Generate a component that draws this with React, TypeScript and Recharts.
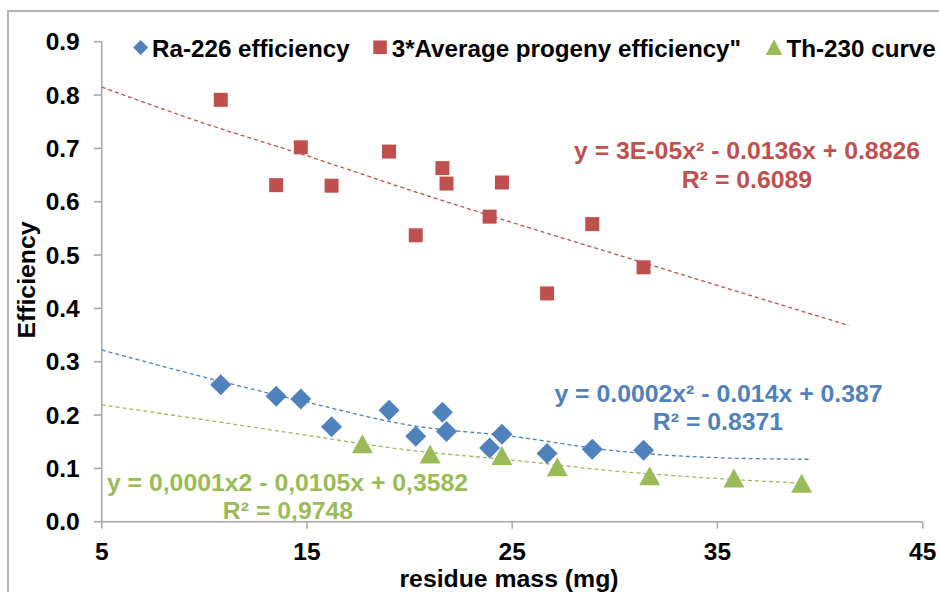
import React from "react";
import { ScatterChart, Scatter, XAxis, YAxis } from "recharts";

// residue mass (mg) of the samples, shared by Ra-226 and progeny series
const residueMass = [10.8, 13.5, 14.7, 16.2, 19.0, 20.3, 21.6, 21.8, 23.9, 24.5, 26.7, 28.9, 31.4];
const ra226Efficiency = [0.257, 0.235, 0.23, 0.178, 0.209, 0.16, 0.205, 0.169, 0.138, 0.164, 0.128, 0.136, 0.134];
const progenyEfficiency = [0.791, 0.631, 0.702, 0.63, 0.694, 0.537, 0.663, 0.634, 0.572, 0.636, 0.428, 0.558, 0.477];

const th230Mass = [17.7, 21.0, 24.5, 27.2, 31.7, 35.8, 39.1];
const th230Efficiency = [0.146, 0.127, 0.124, 0.103, 0.086, 0.082, 0.072];

// trendlines
const progenyTrendX = [5, 10, 15, 20, 25, 30, 35, 41.4];
const progenyTrendY = [0.815, 0.747, 0.686, 0.622, 0.561, 0.502, 0.443, 0.368];
const raTrendX = [5, 10, 15, 20, 25, 30, 35, 39.5];
const raTrendY = [0.322, 0.271, 0.224, 0.181, 0.16, 0.133, 0.12, 0.117];
const thTrendX = [5, 10, 15, 20, 25, 30, 35, 39.2];
const thTrendY = [0.219, 0.191, 0.162, 0.134, 0.1155, 0.095, 0.081, 0.072];

const xTicks = [5, 15, 25, 35, 45];
const yTicks = [0, 0.1, 0.2, 0.3, 0.4, 0.5, 0.6, 0.7, 0.8, 0.9];

const legendLabels = ["Ra-226 efficiency", '3*Average progeny efficiency"', "Th-230 curve"];
const redEquation = ["y = 3E-05x² - 0.0136x + 0.8826", "R² = 0.6089"];
const blueEquation = ["y = 0.0002x² - 0.014x + 0.387", "R² = 0.8371"];
const greenEquation = ["y = 0,0001x2 - 0,0105x + 0,3582", "R² = 0,9748"];

const BLUE = "#4F81BD";
const RED = "#C0504D";
const GREEN = "#9BBB59";
const AXIS = "#a6a6a6";
const FONT = "'Liberation Sans', Arial, sans-serif";

const zip = (xs: number[], ys: number[]) => xs.map((x, i) => ({ x, y: ys[i] }));

const Diamond = ({ cx, cy }: any) => (
  <path d={`M${cx},${cy - 10.5}L${cx + 10.5},${cy}L${cx},${cy + 10.5}L${cx - 10.5},${cy}Z`} fill={BLUE} />
);
const Square = ({ cx, cy }: any) => <rect x={cx - 7} y={cy - 7} width={14} height={14} fill={RED} />;
const Triangle = ({ cx, cy }: any) => (
  <path d={`M${cx},${cy - 9.5}L${cx + 10.5},${cy + 9.5}L${cx - 10.5},${cy + 9.5}Z`} fill={GREEN} />
);
const NoMarker = () => <g />;

const tickStyle = { fill: "#000", fontSize: 24.5, fontWeight: "bold", fontFamily: FONT };
const textStyle: React.CSSProperties = { fontSize: 24.8, fontWeight: "bold", fontFamily: FONT };
const legendStyle: React.CSSProperties = { fontSize: 24.2, fontWeight: "bold", fontFamily: FONT };

export default function App() {
  return (
    <div
      style={{
        position: "absolute",
        left: 0,
        top: 0,
        width: 939,
        height: 592,
        overflow: "hidden",
        background: "#fff",
      }}
    >
      <div
        style={{
          position: "absolute",
          left: 7,
          top: 10,
          width: 1000,
          height: 700,
          border: "2px solid #b4b4b4",
        }}
      />
      <div style={{ position: "absolute", left: 0, top: 0 }}>
        <ScatterChart width={939} height={592} margin={{ top: 41.7, right: 16.3, left: 0, bottom: 0 }}>
          <XAxis
            type="number"
            dataKey="x"
            domain={[5, 45]}
            ticks={xTicks}
            interval={0}
            allowDataOverflow
            height={70.3}
            tickSize={7}
            tickMargin={14}
            axisLine={{ stroke: AXIS, strokeWidth: 1.5 }}
            tickLine={{ stroke: AXIS, strokeWidth: 1.5 }}
            tick={tickStyle}
            label={{
              content: () => (
                <text x={509} y={587} textAnchor="middle" style={textStyle} fill="#000">
                  residue mass (mg)
                </text>
              ),
            }}
          />
          <YAxis
            type="number"
            dataKey="y"
            domain={[0, 0.9]}
            ticks={yTicks}
            interval={0}
            allowDataOverflow
            width={101.7}
            tickSize={8}
            tickMargin={14}
            tickFormatter={(v: number) => v.toFixed(1)}
            axisLine={{ stroke: AXIS, strokeWidth: 1.5 }}
            tickLine={{ stroke: AXIS, strokeWidth: 1.5 }}
            tick={tickStyle}
            label={{
              content: () => (
                <text x={35} y={280} textAnchor="middle" transform="rotate(-90, 35, 280)" style={textStyle} fill="#000">
                  Efficiency
                </text>
              ),
            }}
          />
          <Scatter
            data={zip(progenyTrendX, progenyTrendY)}
            line={{ stroke: RED, strokeWidth: 1.3, strokeDasharray: "4 3" }}
            lineJointType="monotoneX"
            shape={NoMarker}
            isAnimationActive={false}
          />
          <Scatter
            data={zip(raTrendX, raTrendY)}
            line={{ stroke: BLUE, strokeWidth: 1.3, strokeDasharray: "4 3" }}
            lineJointType="monotoneX"
            shape={NoMarker}
            isAnimationActive={false}
          />
          <Scatter
            data={zip(thTrendX, thTrendY)}
            line={{ stroke: GREEN, strokeWidth: 1.3, strokeDasharray: "4 3" }}
            lineJointType="monotoneX"
            shape={NoMarker}
            isAnimationActive={false}
          />
          <Scatter data={zip(residueMass, ra226Efficiency)} shape={Diamond} isAnimationActive={false} />
          <Scatter data={zip(residueMass, progenyEfficiency)} shape={Square} isAnimationActive={false} />
          <Scatter data={zip(th230Mass, th230Efficiency)} shape={Triangle} isAnimationActive={false} />
        </ScatterChart>
      </div>
      <svg width={939} height={592} style={{ position: "absolute", left: 0, top: 0, pointerEvents: "none" }}>
        {/* legend */}
        <path d="M140.7,40L148.2,47.5L140.7,55L133.2,47.5Z" fill={BLUE} />
        <text x={152} y={56.5} style={legendStyle} fill="#000">
          {legendLabels[0]}
        </text>
        <rect x={373.3} y={40.5} width={13.5} height={13.5} fill={RED} />
        <text x={391.7} y={56.5} style={legendStyle} fill="#000">
          {legendLabels[1]}
        </text>
        <path d="M774,39.3L782.3,55L765.7,55Z" fill={GREEN} />
        <text x={786.5} y={56.5} style={legendStyle} fill="#000">
          {legendLabels[2]}
        </text>

        {/* trendline equations */}
        <text x={747} y={158.5} textAnchor="middle" style={textStyle} fill={RED}>
          {redEquation[0]}
        </text>
        <text x={747} y={187.5} textAnchor="middle" style={textStyle} fill={RED}>
          {redEquation[1]}
        </text>
        <text x={718.5} y={401.7} textAnchor="middle" style={textStyle} fill={BLUE}>
          {blueEquation[0]}
        </text>
        <text x={718} y={430} textAnchor="middle" style={textStyle} fill={BLUE}>
          {blueEquation[1]}
        </text>
        <text x={287.5} y={491} textAnchor="middle" style={textStyle} fill={GREEN}>
          {greenEquation[0]}
        </text>
        <text x={288} y={518.5} textAnchor="middle" style={textStyle} fill={GREEN}>
          {greenEquation[1]}
        </text>
      </svg>
    </div>
  );
}
